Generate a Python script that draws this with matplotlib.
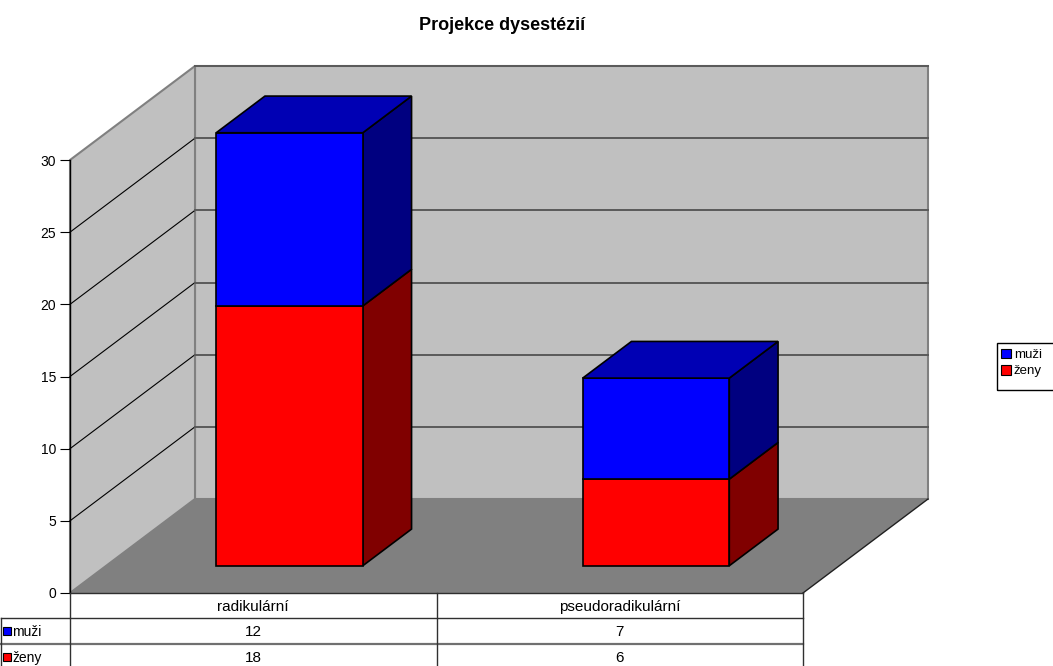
import matplotlib
matplotlib.use("Agg")
import matplotlib.pyplot as plt
from matplotlib.patches import Polygon, Patch, Rectangle

plt.rcParams['font.family'] = ['Liberation Sans', 'DejaVu Sans']

# ---- data ----
title = "Projekce dysestézií"
categories = ["radikulární", "pseudoradikulární"]
series_names = ["muži", "ženy"]          # legend / table order
zeny = [18, 6]                           # bottom segment
muzi = [12, 7]                           # top segment
y_ticks = [0, 5, 10, 15, 20, 25, 30]

# ---- style ----
C_FRONT = {"ženy": "#FF0000", "muži": "#0000FF"}
C_SIDE = {"ženy": "#800000", "muži": "#000080"}
C_TOP = {"ženy": "#B00000", "muži": "#0000B4"}
WALL = "#C0C0C0"
FLOOR = "#808080"

W, H, DPI = 1053, 666, 100
fig = plt.figure(figsize=(W / DPI, H / DPI), dpi=DPI)

# plot region (front plane) in pixels
x0_px, x1_px, y0_px, y1_px = 70, 803, 593, 160
ax = fig.add_axes([x0_px / W, 1 - y0_px / H, (x1_px - x0_px) / W, (y0_px - y1_px) / H])
n = len(categories)
vmax = y_ticks[-1]
ax.set_xlim(0, n)
ax.set_ylim(0, vmax)

px_x = (x1_px - x0_px) / n       # pixels per category unit
px_y = (y0_px - y1_px) / vmax    # pixels per value unit
DX = 125 / px_x                  # depth vector in data units
DY = 94 / px_y


def P(x, v, d):
    return (x + d * DX, v + d * DY)


def poly(pts, fc, ec="none", lw=0.0, z=1):
    ax.add_patch(Polygon(pts, closed=True, facecolor=fc, edgecolor=ec,
                         linewidth=lw, zorder=z, clip_on=False, joinstyle="miter"))


# walls and floor
poly([P(0, 0, 1), P(n, 0, 1), P(n, vmax, 1), P(0, vmax, 1)], WALL, "#808080", 1.5, 1)
poly([P(0, 0, 0), P(0, 0, 1), P(0, vmax, 1), P(0, vmax, 0)], WALL, "#808080", 1.5, 1)
poly([P(0, 0, 0), P(n, 0, 0), P(n, 0, 1), P(0, 0, 1)], FLOOR, "none", 0, 2)
ax.plot(*zip(P(n, 0, 0), P(n, 0, 1)), color="#202020", lw=1.0, zorder=2, clip_on=False)

# gridlines
for v in y_ticks[1:]:
    if v < vmax:
        ax.plot(*zip(P(0, v, 0), P(0, v, 1)), color="black", lw=0.8, zorder=3, clip_on=False)
    ax.plot(*zip(P(0, v, 1), P(n, v, 1)), color="#5a5a5a", lw=1.4, zorder=3, clip_on=False)

# 3D stacked bars
bar_w = 0.4
d_front, d_back = 0.29, 0.68
for i in range(n):
    xl = i + 0.5 - bar_w / 2
    xr = i + 0.5 + bar_w / 2
    base = 0
    segs = [("ženy", zeny[i]), ("muži", muzi[i])]
    for k, (name, val) in enumerate(segs):
        lo, hi = base, base + val
        # side face
        poly([P(xr, lo, d_front), P(xr, lo, d_back), P(xr, hi, d_back), P(xr, hi, d_front)],
             C_SIDE[name], "black", 1.2, 5)
        # front face
        poly([P(xl, lo, d_front), P(xr, lo, d_front), P(xr, hi, d_front), P(xl, hi, d_front)],
             C_FRONT[name], "black", 1.2, 6)
        if k == len(segs) - 1:
            poly([P(xl, hi, d_front), P(xr, hi, d_front), P(xr, hi, d_back), P(xl, hi, d_back)],
                 C_TOP[name], "black", 1.2, 6)
        base = hi

# value axis
for s in ["top", "right", "bottom"]:
    ax.spines[s].set_visible(False)
ax.spines["left"].set_color("black")
ax.spines["left"].set_linewidth(1.0)
ax.spines["left"].set_zorder(7)
ax.set_xticks([])
ax.set_yticks(y_ticks)
ax.tick_params(axis="y", direction="out", length=7, width=0.8, labelsize=10, pad=3)
ax.patch.set_visible(False)

# data table
row_h = [25 / px_y, 26 / px_y, 25 / px_y]
key_w = (x0_px - 1) / px_x
tops = [0, -row_h[0], -row_h[0] - row_h[1]]
bottom = tops[2] - row_h[2]
kw = dict(color="#303030", lw=1.0, zorder=8, clip_on=False)
ax.plot([0, n], [0, 0], **kw)
ax.plot([-key_w, n], [tops[1], tops[1]], **kw)
ax.plot([-key_w, n], [tops[2], tops[2]], color="#707070", lw=1.6, zorder=8, clip_on=False)
ax.plot([0, 0], [0, bottom], **kw)
ax.plot([n, n], [0, bottom], **kw)
ax.plot([-key_w, -key_w], [tops[1], bottom], **kw)
for i in range(1, n):
    ax.plot([i, i], [0, bottom], **kw)

TABLE_FS = 11
for i, c in enumerate(categories):
    ax.text(i + 0.5, -row_h[0] / 2, c, ha="center", va="center_baseline",
            fontsize=TABLE_FS, clip_on=False)

table_rows = {"muži": muzi, "ženy": zeny}
for r, name in enumerate(series_names):
    yc = tops[r + 1] - row_h[r + 1] / 2
    for i, val in enumerate(table_rows[name]):
        ax.text(i + 0.5, yc, str(val), ha="center", va="center_baseline",
                fontsize=TABLE_FS, clip_on=False)
    sq = 8
    xs = -key_w + 2 / px_x
    ax.add_patch(Rectangle((xs, yc - sq / 2 / px_y), sq / px_x, sq / px_y,
                           facecolor=C_FRONT[name], edgecolor="black",
                           lw=0.8, zorder=9, clip_on=False))
    ax.text(xs + (sq + 1.5) / px_x, yc, name, ha="left", va="center_baseline",
            fontsize=10, clip_on=False)

# title
fig.text(502 / W, 1 - 26 / H, title, ha="center", va="center", fontsize=13,
         fontweight="bold")

# legend
handles = [Patch(facecolor=C_FRONT[s], edgecolor="black", linewidth=0.8) for s in series_names]
leg = fig.legend(handles, series_names, loc="upper left",
                 bbox_to_anchor=(998 / W, 1 - 346 / H), fontsize=9.5, frameon=False,
                 handlelength=0.75, handleheight=0.75, handletextpad=0.25,
                 borderpad=0.2, labelspacing=0.3, borderaxespad=0)
fig.add_artist(Rectangle((997 / W, 1 - 390 / H), 70 / W, 47 / H, transform=fig.transFigure,
                         facecolor="none", edgecolor="black", lw=1.0, clip_on=False))

fig.savefig("out.png", dpi=DPI)
